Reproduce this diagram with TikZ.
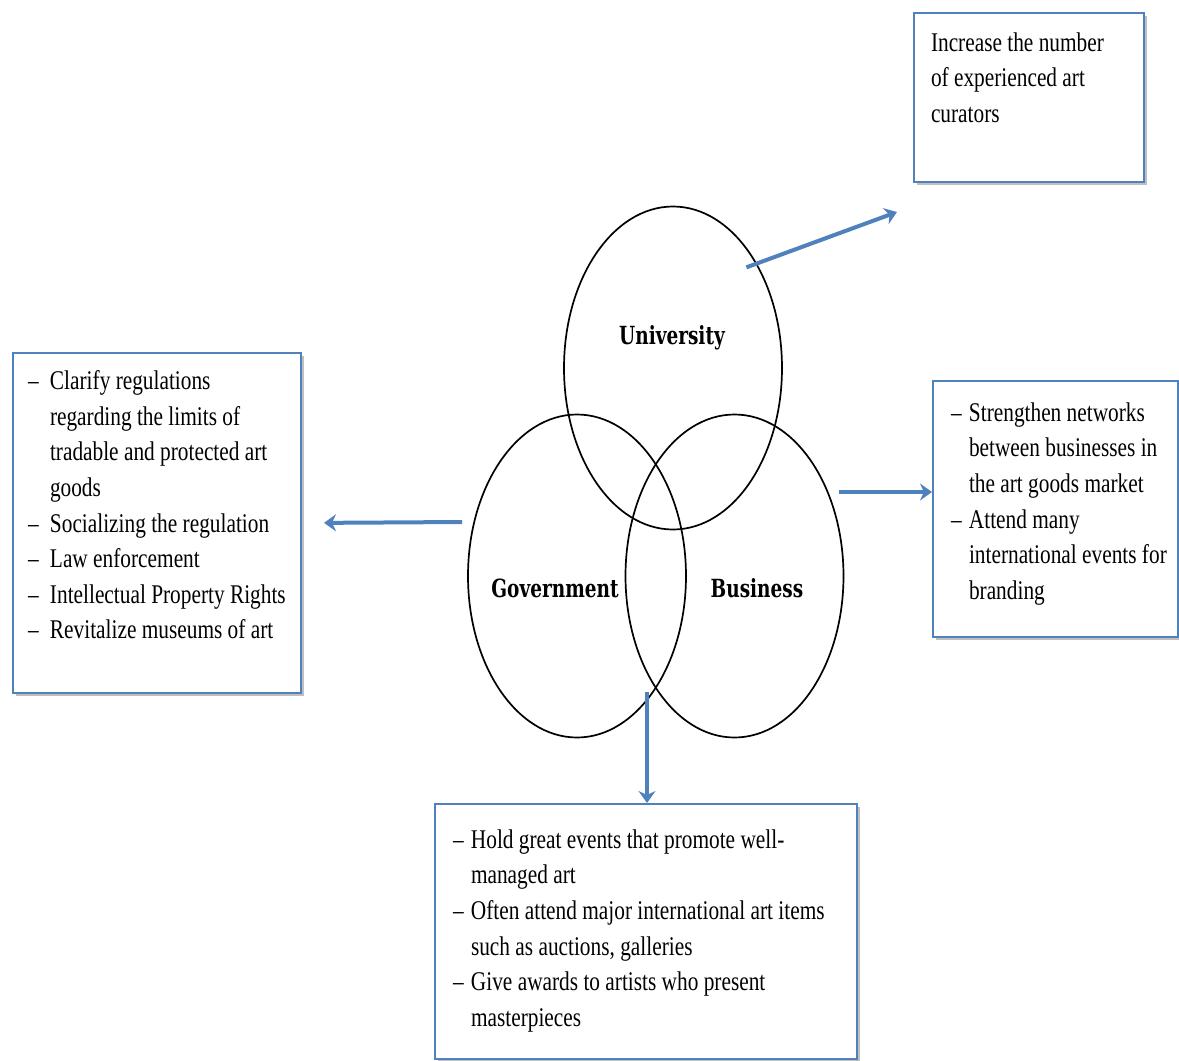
\documentclass[tikz,border=0pt]{standalone}
\usepackage{fontspec}
\setmainfont{Liberation Serif}[FakeStretch=0.79]
\newfontfamily\circlefont{DejaVu Serif}[FakeStretch=0.74]
\usetikzlibrary{arrows.meta,shapes.geometric,shadows}

\definecolor{boxblue}{HTML}{4F81BD}

\newlength{\dashgap}
\setlength{\dashgap}{9pt}
\newcommand{\dashitem}[1]{\par\hangindent=\dashgap\hangafter=1\noindent\makebox[\dashgap][l]{--}#1}
\newcommand{\boxbody}[5]{\parbox[t][#2][t]{#1}{\leftskip=#4\relax\vspace*{#3}#5}}

\begin{document}
\begin{tikzpicture}[x=0.5pt,y=-0.5pt,
  ring/.style={draw, ellipse, line width=0.85pt, minimum width=109pt, minimum height=161.5pt, inner sep=0pt},
  ringlabel/.style={font=\circlefont\bfseries\fontsize{12.5}{14}\selectfont},
  infobox/.style={draw=boxblue, line width=1pt, fill=white, anchor=north west, inner sep=0pt,
    drop shadow={shadow xshift=1.5pt, shadow yshift=-1.5pt, opacity=0.25, fill=black},
    font=\fontsize{13.5}{17.8}\selectfont},
  flow/.style={draw=boxblue, line width=2pt, -{Stealth[length=6pt,width=8.5pt,inset=2pt]}}]
\useasboundingbox (0,0) rectangle (1179,1061);

\node[ring] (univ) at (673,368) {};
\node[ring] (gov) at (577,576) {};
\node[ring] (biz) at (734.5,576) {};

\node[ringlabel] (univtxt) at (672,338) {University};
\node[ringlabel] (govtxt) at (555,588) {Government};
\node[ringlabel] (biztxt) at (757,588) {Business};

\node[infobox] (curbox) at (913,12)
{\boxbody{115pt}{84.5pt}{9.8pt}{8.5pt}{Increase the number\\ of experienced art\\ curators}};

\node[infobox] (govbox) at (12,352)
{\boxbody{144pt}{170pt}{8.8pt}{7.5pt}{\setlength{\dashgap}{11pt}%
\dashitem{Clarify regulations\\ regarding the limits of\\ tradable and protected art\\ goods}
\dashitem{Socializing the regulation}
\dashitem{Law enforcement}
\dashitem{Intellectual Property Rights}
\dashitem{Revitalize museums of art}}};

\node[infobox] (bizbox) at (932,380)
{\boxbody{122.5pt}{128pt}{10.8pt}{9pt}{%
\dashitem{Strengthen networks\\ between businesses in\\ the art goods market}
\dashitem{Attend many\\ international events for\\ branding}}};

\node[infobox] (artbox) at (434,803)
{\boxbody{211pt}{127.5pt}{12.8pt}{9pt}{%
\dashitem{Hold great events that promote well-\\ managed art}
\dashitem{Often attend major international art items\\ such as auctions, galleries}
\dashitem{Give awards to artists who present\\ masterpieces}}};

\coordinate (univout) at ([shift={(-7,10)}]univ.54);
\coordinate (govout) at ([shift={(-5,-54)}]gov.west);
\coordinate (bizout) at ([shift={(-5.5,-84)}]biz.east);
\coordinate (jointout) at (647,692);

\draw[flow] (univout) -- ([shift={(-16,29)}]curbox.south west);
\draw[flow, shorten >=11pt] (govout) -- (govbox.east);
\draw[flow] (bizout) -- (bizout -| bizbox.west);
\draw[flow] (jointout) -- (jointout |- artbox.north);
\end{tikzpicture}
\end{document}
